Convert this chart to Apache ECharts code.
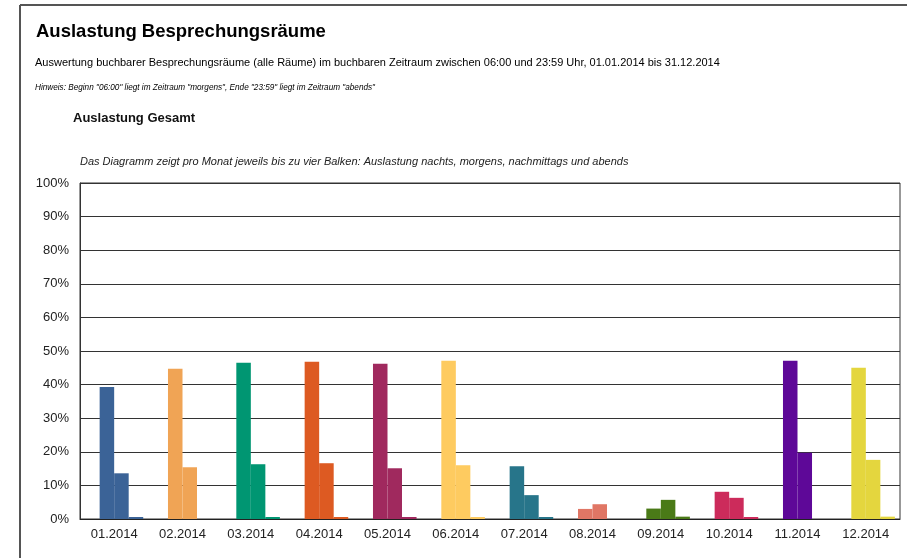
<!DOCTYPE html>
<html>
<head>
<meta charset="utf-8">
<title>Auslastung Besprechungsräume</title>
<script src="https://cdn.jsdelivr.net/npm/echarts@6/dist/echarts.min.js"></script>
<style>
  html, body { margin: 0; padding: 0; background: #fff; }
  #chart { width: 907px; height: 558px; }
</style>
</head>
<body>
<div id="chart"></div>
<script>
// Monate
var months = ["01.2014","02.2014","03.2014","04.2014","05.2014","06.2014",
              "07.2014","08.2014","09.2014","10.2014","11.2014","12.2014"];
// Auslastung in % je Zeitraum
var nachts      = [0, 0, 0, 0, 0, 0, 0, 0, 0, 0, 0, 0];
var morgens     = [39.3, 44.7, 46.5, 46.8, 46.2, 47.1, 15.7, 3.0, 3.1, 8.1, 47.1, 45.0];
var nachmittags = [13.6, 15.4, 16.3, 16.6, 15.1, 16.0, 7.1, 4.4, 5.7, 6.3, 19.7, 17.6];
var abends      = [0.6, 0, 0.6, 0.6, 0.6, 0.6, 0.6, 0, 0.7, 0.6, 0, 0.7];
var yTicks = [0, 10, 20, 30, 40, 50, 60, 70, 80, 90, 100];
// Farbe pro Monat
var monthColors = ["#3b6397","#f0a455","#009672","#dd5a22","#a0295e","#fecb60",
                   "#27758a","#e07665","#4a7a17","#cc2b5b","#5e0898","#e4d63e"];

var chart = echarts.init(document.getElementById('chart'));

function barSeries(name, data) {
    return {
        name: name,
        type: 'bar',
        data: data,
        barGap: '0%',
        barCategoryGap: '15%',
        itemStyle: {
            color: function (p) { return monthColors[p.dataIndex]; }
        }
    };
}

var font = 'Liberation Sans, Arial, sans-serif';

chart.setOption({
    animation: false,
    textStyle: { fontFamily: font },
    title: [
        { text: 'Auslastung Besprechungsräume', left: 36, top: 22, padding: 0,
          textStyle: { fontSize: 18.5, fontWeight: 'bold', color: '#000', fontFamily: font } },
        { text: 'Auswertung buchbarer Besprechungsräume (alle Räume) im buchbaren Zeitraum zwischen 06:00 und 23:59 Uhr, 01.01.2014 bis 31.12.2014',
          left: 35, top: 57, padding: 0,
          textStyle: { fontSize: 11, fontWeight: 'normal', color: '#000', fontFamily: font } },
        { text: 'Hinweis: Beginn "06:00" liegt im Zeitraum "morgens", Ende "23:59" liegt im Zeitraum "abends"',
          left: 35, top: 84, padding: 0,
          textStyle: { fontSize: 8.2, fontWeight: 'normal', fontStyle: 'italic', color: '#000', fontFamily: font } },
        { text: 'Auslastung Gesamt', left: 73, top: 112, padding: 0,
          textStyle: { fontSize: 13, fontWeight: 'bold', color: '#111', fontFamily: font } },
        { text: 'Das Diagramm zeigt pro Monat jeweils bis zu vier Balken: Auslastung nachts, morgens, nachmittags und abends',
          left: 80, top: 156, padding: 0,
          textStyle: { fontSize: 11, fontWeight: 'normal', fontStyle: 'italic', color: '#222', fontFamily: font } }
    ],
    graphic: [
        { type: 'line', shape: { x1: 20, y1: 5, x2: 907, y2: 5 },
          style: { stroke: '#555', lineWidth: 2 } },
        { type: 'line', shape: { x1: 20, y1: 5, x2: 20, y2: 558 },
          style: { stroke: '#555', lineWidth: 2 } }
    ],
    grid: {
        left: 80, right: 7, top: 183, bottom: 39,
        show: true, borderColor: '#333', borderWidth: 1
    },
    xAxis: {
        type: 'category',
        data: months,
        axisTick: { show: false },
        axisLine: { lineStyle: { color: '#222', width: 1 } },
        axisLabel: { fontSize: 13, color: '#222', margin: 9, fontFamily: font }
    },
    yAxis: {
        type: 'value',
        min: yTicks[0],
        max: yTicks[yTicks.length - 1],
        interval: 10,
        axisLine: { show: true, lineStyle: { color: '#333' } },
        axisTick: { show: false },
        splitLine: { lineStyle: { color: '#333', width: 1 } },
        axisLabel: { fontSize: 13, color: '#222', margin: 11, fontFamily: font,
                     formatter: '{value}%' }
    },
    series: [
        barSeries('nachts', nachts),
        barSeries('morgens', morgens),
        barSeries('nachmittags', nachmittags),
        barSeries('abends', abends)
    ]
});
</script>
</body>
</html>
